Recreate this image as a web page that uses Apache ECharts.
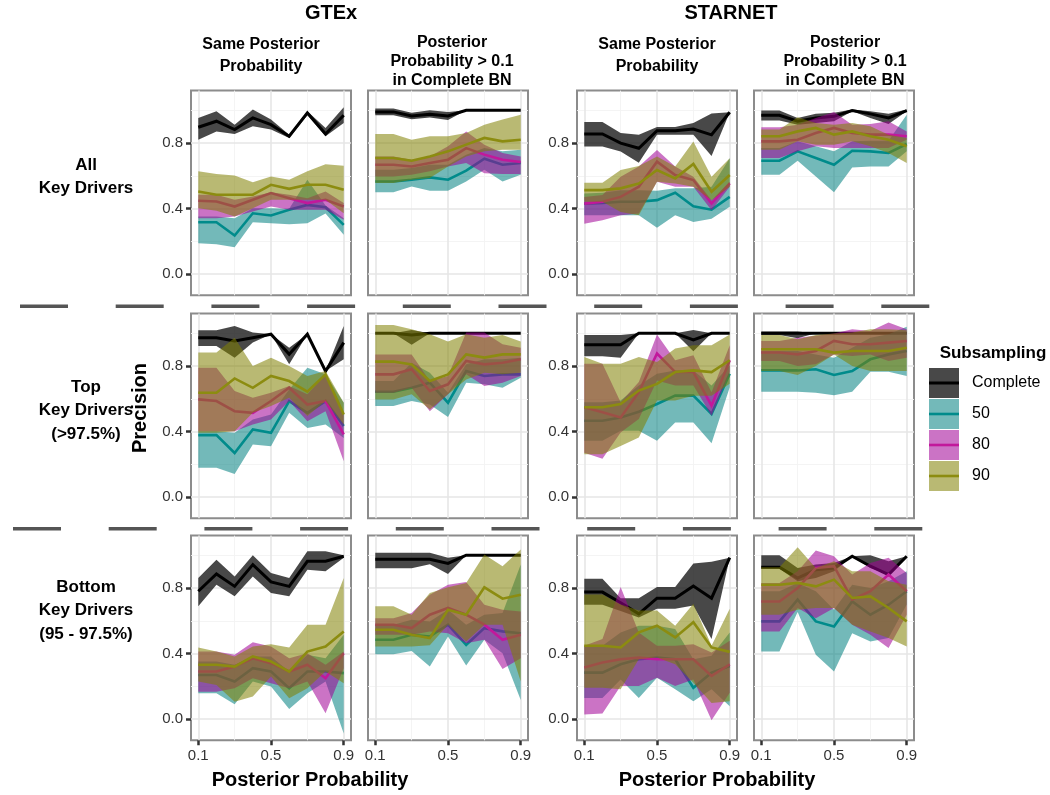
<!DOCTYPE html>
<html><head><meta charset="utf-8">
<script src="https://cdn.jsdelivr.net/npm/echarts@6/dist/echarts.min.js"></script>
<style>html,body{margin:0;padding:0;background:#fff;}#c{width:1050px;height:795px;}</style>
</head><body><div id="c"></div>
<script>
// ---------- shared axes / labels ----------
const xs = [0.1, 0.2, 0.3, 0.4, 0.5, 0.6, 0.7, 0.8, 0.9];
const xTickVals = [0.1, 0.5, 0.9];
const xMinorVals = [0.3, 0.7];
const yTickVals = [0.0, 0.4, 0.8];
const yMinorVals = [0.2, 0.6, 1.0];
const groupNames = ['Complete', '50', '80', '90'];
const datasetTitles = ['GTEx', 'STARNET'];
const colHeaders = [['Same Posterior', 'Probability'], ['Posterior', 'Probability > 0.1', 'in Complete BN'],
                    ['Same Posterior', 'Probability'], ['Posterior', 'Probability > 0.1', 'in Complete BN']];
const rowLabels = [['All', 'Key Drivers'], ['Top', 'Key Drivers', '(>97.5%)'], ['Bottom', 'Key Drivers', '(95 - 97.5%)']];
const xTitle = 'Posterior Probability';
const yTitle = 'Precision';
const legendTitle = 'Subsampling';

// ---------- data: row "All Key Drivers" ----------
// GTEx, same posterior probability
const aGS_C  = {mid:[0.896,0.933,0.882,0.953,0.912,0.841,0.984,0.855,0.969], lo:[0.82,0.871,0.855,0.902,0.882,0.831,0.969,0.841,0.922], hi:[0.953,0.994,0.912,1.004,0.943,0.851,0.994,0.892,1.018]};
const aGS_50 = {mid:[0.316,0.316,0.235,0.371,0.357,0.392,0.422,0.408,0.30], lo:[0.188,0.182,0.163,0.316,0.31,0.304,0.31,0.37,0.239], hi:[0.351,0.351,0.341,0.402,0.402,0.398,0.576,0.418,0.341]};
const aGS_80 = {mid:[0.447,0.443,0.412,0.453,0.494,0.463,0.433,0.453,0.412], lo:[0.341,0.341,0.351,0.382,0.412,0.392,0.392,0.392,0.331], hi:[0.484,0.484,0.453,0.473,0.5,0.484,0.463,0.504,0.433]};
const aGS_90 = {mid:[0.504,0.484,0.484,0.484,0.545,0.52,0.545,0.545,0.514], lo:[0.402,0.386,0.351,0.402,0.453,0.453,0.453,0.453,0.371], hi:[0.627,0.61,0.602,0.561,0.596,0.576,0.627,0.671,0.661]};
// GTEx, posterior probability > 0.1 in complete BN
const aGP_C  = {mid:[0.99,0.99,0.965,0.975,0.965,1,1,1,1], lo:[0.97,0.97,0.945,0.955,0.94,1,1,1,1], hi:[1.01,1.01,0.985,1.0,0.99,1,1,1,1]};
const aGP_50 = {mid:[0.565,0.565,0.576,0.59,0.576,0.631,0.704,0.667,0.678], lo:[0.5,0.5,0.535,0.508,0.508,0.565,0.637,0.565,0.606], hi:[0.637,0.637,0.647,0.667,0.667,0.729,0.769,0.749,0.759]};
const aGP_80 = {mid:[0.667,0.667,0.657,0.678,0.698,0.769,0.729,0.698,0.684], lo:[0.596,0.596,0.606,0.627,0.657,0.678,0.616,0.61,0.61], hi:[0.718,0.718,0.698,0.718,0.78,0.871,0.79,0.739,0.718]};
const aGP_90 = {mid:[0.708,0.708,0.692,0.718,0.749,0.79,0.831,0.81,0.82], lo:[0.555,0.555,0.576,0.586,0.657,0.718,0.749,0.759,0.759], hi:[0.855,0.855,0.82,0.841,0.841,0.861,0.912,0.943,0.973]};
// STARNET, same posterior probability
const aSS_C  = {mid:[0.855,0.855,0.799,0.768,0.875,0.875,0.885,0.85,0.988], lo:[0.779,0.779,0.748,0.68,0.85,0.85,0.85,0.721,0.988], hi:[0.928,0.928,0.861,0.85,0.898,0.898,0.922,0.98,0.988]};
const aSS_50 = {mid:[0.43,0.434,0.441,0.441,0.451,0.496,0.414,0.393,0.471], lo:[0.359,0.359,0.359,0.359,0.283,0.359,0.318,0.338,0.41], hi:[0.492,0.496,0.512,0.512,0.508,0.523,0.523,0.533,0.707]};
const aSS_80 = {mid:[0.43,0.441,0.471,0.533,0.686,0.605,0.574,0.43,0.553], lo:[0.307,0.328,0.359,0.369,0.564,0.533,0.533,0.389,0.533], hi:[0.471,0.482,0.594,0.656,0.758,0.656,0.594,0.451,0.564]};
const aSS_90 = {mid:[0.512,0.512,0.523,0.553,0.635,0.584,0.672,0.502,0.605], lo:[0.441,0.441,0.379,0.359,0.564,0.553,0.533,0.451,0.533], hi:[0.557,0.557,0.635,0.66,0.717,0.656,0.809,0.594,0.707]};
// STARNET, posterior probability > 0.1 in complete BN
const aSP_C  = {mid:[0.969,0.969,0.933,0.953,0.963,0.998,0.978,0.953,0.998], lo:[0.937,0.937,0.912,0.922,0.933,0.994,0.953,0.916,0.994], hi:[0.998,0.998,0.953,0.978,0.984,1.004,0.994,0.978,1.004]};
const aSP_50 = {mid:[0.692,0.692,0.749,0.708,0.667,0.753,0.749,0.739,0.794], lo:[0.606,0.606,0.692,0.596,0.5,0.651,0.657,0.657,0.749], hi:[0.769,0.769,0.81,0.78,0.749,0.81,0.814,0.814,0.973]};
const aSP_80 = {mid:[0.81,0.81,0.82,0.861,0.892,0.861,0.851,0.851,0.841], lo:[0.708,0.708,0.749,0.78,0.769,0.769,0.769,0.769,0.82], hi:[0.896,0.896,0.912,0.953,0.99,0.912,0.916,0.933,0.871]};
const aSP_90 = {mid:[0.841,0.841,0.871,0.892,0.851,0.871,0.841,0.82,0.78], lo:[0.759,0.759,0.81,0.79,0.79,0.81,0.78,0.739,0.678], hi:[0.882,0.882,0.957,0.922,0.912,0.922,0.902,0.851,0.831]};

// ---------- data: row "Top Key Drivers (>97.5%)" ----------
const tGS_C  = {mid:[0.973,0.973,0.953,0.973,0.994,0.871,0.994,0.769,0.943], lo:[0.922,0.922,0.851,0.943,0.994,0.81,0.994,0.769,0.841], hi:[1.018,1.018,1.045,1.004,0.994,0.912,0.994,0.769,1.045]};
const tGS_50 = {mid:[0.378,0.378,0.269,0.412,0.392,0.586,0.514,0.586,0.433], lo:[0.178,0.178,0.141,0.32,0.31,0.514,0.422,0.443,0.361], hi:[0.402,0.402,0.392,0.473,0.504,0.657,0.79,0.749,0.576]};
const tGS_80 = {mid:[0.596,0.586,0.524,0.514,0.586,0.667,0.565,0.586,0.382], lo:[0.402,0.402,0.402,0.443,0.473,0.586,0.463,0.524,0.218], hi:[0.79,0.79,0.647,0.606,0.637,0.678,0.627,0.749,0.504]};
const tGS_90 = {mid:[0.637,0.637,0.724,0.667,0.739,0.708,0.643,0.749,0.504], lo:[0.392,0.392,0.402,0.514,0.555,0.606,0.494,0.586,0.443], hi:[0.882,0.882,0.973,0.8,0.851,0.8,0.739,0.769,0.576]};
const tGP_C  = {mid:[1,1,0.99,1,1,1,1,1,1], lo:[1,1,0.93,1,1,1,1,1,1], hi:[1,1,1.02,1,1,1,1,1,1]};
const tGP_50 = {mid:[0.643,0.643,0.667,0.698,0.576,0.769,0.739,0.749,0.749], lo:[0.555,0.555,0.586,0.565,0.488,0.698,0.688,0.667,0.729], hi:[0.708,0.708,0.82,0.759,0.637,0.81,0.841,0.841,0.851]};
const tGP_80 = {mid:[0.749,0.749,0.78,0.647,0.688,0.831,0.81,0.82,0.841], lo:[0.637,0.637,0.667,0.524,0.627,0.749,0.678,0.698,0.739], hi:[0.871,0.871,0.871,0.708,0.739,1.004,1.004,0.933,0.912]};
const tGP_90 = {mid:[0.827,0.827,0.81,0.708,0.749,0.871,0.851,0.871,0.871], lo:[0.596,0.596,0.627,0.535,0.627,0.718,0.759,0.749,0.759], hi:[1.051,1.051,1.024,0.994,0.949,0.994,0.973,0.99,0.949]};
const tSS_C  = {mid:[0.93,0.93,0.93,1,1,1,0.96,1,1], lo:[0.86,0.86,0.85,1,1,1,0.89,1,1], hi:[0.99,0.99,0.99,1,1,1,1.02,1,1]};
const tSS_50 = {mid:[0.466,0.466,0.486,0.521,0.568,0.619,0.619,0.507,0.753], lo:[0.343,0.343,0.404,0.404,0.343,0.455,0.455,0.328,0.671], hi:[0.578,0.578,0.589,0.681,0.753,0.773,0.773,0.681,0.804]};
const tSS_80 = {mid:[0.548,0.517,0.486,0.64,0.876,0.763,0.763,0.558,0.835], lo:[0.271,0.234,0.394,0.476,0.712,0.681,0.681,0.496,0.763], hi:[0.814,0.814,0.578,0.702,0.993,0.835,0.866,0.64,0.927]};
const tSS_90 = {mid:[0.548,0.548,0.568,0.65,0.691,0.763,0.773,0.763,0.835], lo:[0.261,0.261,0.312,0.363,0.589,0.589,0.619,0.619,0.691], hi:[0.855,0.814,0.814,0.855,0.825,0.907,0.927,0.927,0.993]};
const tSP_C  = {mid:[1,1,1,1,1,1,1,1,1], lo:[0.99,0.99,0.97,1,1,1,1,1,1], hi:[1.01,1.01,1.01,1,1,1,1,1,1]};
const tSP_50 = {mid:[0.773,0.773,0.773,0.78,0.745,0.769,0.841,0.871,0.892], lo:[0.643,0.643,0.643,0.637,0.622,0.643,0.765,0.765,0.739], hi:[0.892,0.892,0.892,0.871,0.851,0.912,0.973,0.994,1.039]};
const tSP_80 = {mid:[0.882,0.882,0.871,0.892,0.953,0.933,0.933,0.943,0.953], lo:[0.831,0.831,0.8,0.81,0.871,0.861,0.871,0.831,0.851], hi:[0.953,0.953,0.973,0.984,0.998,1.024,1.014,1.065,1.024]};
const tSP_90 = {mid:[0.902,0.902,0.902,0.902,0.882,0.892,0.892,0.892,0.912], lo:[0.769,0.769,0.745,0.8,0.871,0.8,0.769,0.769,0.769], hi:[0.99,0.99,0.963,0.99,0.998,1.004,1.024,1.024,1.018]};

// ---------- data: row "Bottom Key Drivers (95 - 97.5%)" ----------
const bGS_C  = {mid:[0.78,0.886,0.81,0.943,0.837,0.81,0.963,0.963,0.994], lo:[0.688,0.82,0.749,0.871,0.769,0.749,0.912,0.902,0.984], hi:[0.861,0.973,0.871,1.0,0.892,0.861,1.024,1.024,1.0]};
const bGS_50 = {mid:[0.269,0.269,0.229,0.31,0.29,0.188,0.29,0.29,0.28], lo:[0.157,0.157,0.09,0.229,0.198,0.061,0.157,0.229,-0.088], hi:[0.351,0.351,0.331,0.382,0.382,0.29,0.392,0.371,0.514]};
const bGS_80 = {mid:[0.29,0.29,0.32,0.371,0.341,0.29,0.331,0.249,0.402], lo:[0.167,0.167,0.188,0.249,0.218,0.188,0.229,0.035,0.31], hi:[0.412,0.412,0.392,0.469,0.443,0.371,0.402,0.331,0.412]};
const bGS_90 = {mid:[0.331,0.331,0.32,0.382,0.351,0.29,0.412,0.443,0.535], lo:[0.229,0.208,0.106,0.137,0.259,0.127,0.188,0.29,0.218], hi:[0.437,0.412,0.382,0.443,0.457,0.437,0.576,0.576,0.861]};
const bGP_C  = {mid:[0.975,0.975,0.975,0.975,0.95,1,1,1,1], lo:[0.92,0.92,0.92,0.945,0.885,1,1,1,1], hi:[1.015,1.015,1.015,1.015,0.985,1,1,1,1]};
const bGP_50 = {mid:[0.484,0.484,0.514,0.504,0.576,0.453,0.555,0.535,0.524], lo:[0.396,0.396,0.416,0.32,0.504,0.327,0.484,0.402,0.116], hi:[0.576,0.576,0.606,0.596,0.667,0.576,0.637,0.647,0.943]};
const bGP_80 = {mid:[0.576,0.576,0.555,0.637,0.678,0.637,0.576,0.484,0.514], lo:[0.514,0.514,0.514,0.535,0.524,0.463,0.484,0.306,0.371], hi:[0.616,0.616,0.647,0.759,0.82,0.837,0.698,0.667,0.657]};
const bGP_90 = {mid:[0.545,0.545,0.514,0.494,0.667,0.637,0.804,0.735,0.759], lo:[0.443,0.443,0.443,0.45,0.576,0.473,0.576,0.576,0.229], hi:[0.688,0.688,0.637,0.769,0.804,0.831,1.004,0.933,1.035]};
const bSS_C  = {mid:[0.775,0.775,0.71,0.642,0.738,0.738,0.812,0.738,0.985], lo:[0.697,0.697,0.66,0.62,0.673,0.673,0.693,0.488,0.985], hi:[0.857,0.857,0.738,0.738,0.806,0.806,0.95,0.96,0.985]};
const bSS_50 = {mid:[0.283,0.283,0.334,0.365,0.375,0.365,0.191,0.283,0.324], lo:[0.129,0.129,0.242,0.129,0.252,0.181,0.109,0.181,0.078], hi:[0.447,0.447,0.529,0.57,0.57,0.55,0.365,0.386,0.529]};
const bSS_80 = {mid:[0.314,0.345,0.365,0.375,0.365,0.365,0.365,0.263,0.334], lo:[0.027,0.033,0.201,0.201,0.252,0.201,0.242,-0.008,0.16], hi:[0.447,0.488,0.806,0.529,0.447,0.447,0.457,0.406,0.478]};
const bSS_90 = {mid:[0.447,0.447,0.437,0.529,0.57,0.498,0.591,0.437,0.41], lo:[0.191,0.191,0.181,0.365,0.375,0.334,0.222,0.098,0.109], hi:[0.76,0.76,0.70,0.663,0.663,0.57,0.704,0.447,0.673]};
const bSP_C  = {mid:[0.927,0.927,0.861,0.912,0.922,0.994,0.933,0.882,0.994], lo:[0.918,0.918,0.841,0.861,0.902,0.994,0.922,0.882,0.994], hi:[1.0,1.0,0.922,0.943,0.953,0.994,1.0,0.963,0.994]};
const bSP_50 = {mid:[0.596,0.596,0.729,0.596,0.565,0.718,0.637,0.698,0.78], lo:[0.412,0.412,0.653,0.392,0.29,0.524,0.473,0.494,0.70], hi:[0.78,0.78,0.831,0.78,0.667,0.82,0.8,0.841,0.902]};
const bSP_80 = {mid:[0.718,0.718,0.8,0.922,0.933,0.729,0.78,0.882,0.78], lo:[0.535,0.535,0.678,0.616,0.678,0.576,0.514,0.433,0.637], hi:[0.831,0.831,0.902,1.029,0.994,0.882,0.953,0.984,0.892]};
const bSP_90 = {mid:[0.82,0.82,0.831,0.81,0.851,0.739,0.749,0.678,0.596], lo:[0.637,0.637,0.667,0.678,0.678,0.576,0.535,0.494,0.443], hi:[0.927,0.927,1.049,0.922,0.963,0.902,0.902,0.841,0.82]};

const panels = [
  [aGS_C, aGS_50, aGS_80, aGS_90], [aGP_C, aGP_50, aGP_80, aGP_90], [aSS_C, aSS_50, aSS_80, aSS_90], [aSP_C, aSP_50, aSP_80, aSP_90],
  [tGS_C, tGS_50, tGS_80, tGS_90], [tGP_C, tGP_50, tGP_80, tGP_90], [tSS_C, tSS_50, tSS_80, tSS_90], [tSP_C, tSP_50, tSP_80, tSP_90],
  [bGS_C, bGS_50, bGS_80, bGS_90], [bGP_C, bGP_50, bGP_80, bGP_90], [bSS_C, bSS_50, bSS_80, bSS_90], [bSP_C, bSP_50, bSP_80, bSP_90]
];

// ---------- styling / layout ----------
const FONT = "'Liberation Sans', Arial, Helvetica, sans-serif";
const lineColors = ['#000000', '#008B8B', '#C2189B', '#8C8C10'];
const bandColors = ['rgba(26,26,26,0.8)', 'rgba(0,128,128,0.55)', 'rgba(160,0,150,0.55)', 'rgba(128,128,0,0.55)'];
const lineWidths = [3, 2.6, 2.6, 2.6];
const colLeft = [191, 368, 577, 754];
const panelW = 160;
const rowTop = [90.6, 313.6, 535.6];
const panelH = 204.7;
const Y_MIN = -0.13, Y_MAX = 1.12, X_MIN = 0.06, X_MAX = 0.94;

const grids = [], xAxes = [], yAxes = [], series = [];
const fmt = v => v.toFixed(1);
const majorStyle = {color: '#E6E6E6', width: 1.6, type: 'solid'};
const minorStyle = {color: '#F3F3F3', width: 0.9, type: 'solid'};

// ribbon between lo and hi, drawn as one polygon through the axis scales
function ribbonRenderer(fill) {
  return function (params, api) {
    if (params.dataIndexInside !== 0) return null;
    const n = params.dataInsideLength;
    const top = [], bot = [];
    for (let j = 0; j < n; j++) {
      const x = api.value(0, j);
      top.push(api.coord([x, api.value(2, j)]));
      bot.push(api.coord([x, api.value(1, j)]));
    }
    return {type: 'polygon', shape: {points: top.concat(bot.reverse())}, style: {fill: fill, stroke: null}, silent: true};
  };
}

panels.forEach((groups, i) => {
  const r = Math.floor(i / 4), c = i % 4;
  grids.push({left: colLeft[c], top: rowTop[r], width: panelW, height: panelH,
              show: true, borderColor: '#8C8C8C', borderWidth: 2, backgroundColor: '#fff', containLabel: false});
  const showX = r === 2, showY = (c === 0 || c === 2);
  xAxes.push({type: 'value', gridIndex: i, min: X_MIN, max: X_MAX, position: 'bottom',
    axisLine: {show: false, onZero: false}, splitLine: {show: false},
    axisTick: {show: showX, customValues: xTickVals, length: 5, lineStyle: {color: '#333', width: 2.5}},
    axisLabel: {show: showX, customValues: xTickVals, formatter: fmt, fontSize: 15, color: '#333', fontFamily: FONT, margin: 8}});
  yAxes.push({type: 'value', gridIndex: i, min: Y_MIN, max: Y_MAX, position: 'left',
    axisLine: {show: false, onZero: false}, splitLine: {show: false},
    axisTick: {show: showY, customValues: yTickVals, length: 5, lineStyle: {color: '#333', width: 2.5}},
    axisLabel: {show: showY, customValues: yTickVals, formatter: fmt, fontSize: 15, color: '#333', fontFamily: FONT, margin: 8}});
  // panel grid lines (through the axis scale)
  const ml = [];
  xMinorVals.forEach(v => ml.push({xAxis: v, lineStyle: minorStyle}));
  yMinorVals.forEach(v => ml.push({yAxis: v, lineStyle: minorStyle}));
  xTickVals.forEach(v => ml.push({xAxis: v, lineStyle: majorStyle}));
  yTickVals.forEach(v => ml.push({yAxis: v, lineStyle: majorStyle}));
  series.push({type: 'line', xAxisIndex: i, yAxisIndex: i, data: [[0.5, null]], symbol: 'none', silent: true, z: 1,
    markLine: {silent: true, z: 1, symbol: ['none', 'none'], label: {show: false}, animation: false, data: ml}});
  groups.forEach((g, k) => {
    series.push({type: 'custom', xAxisIndex: i, yAxisIndex: i, silent: true, z: 2 + 2 * k, clip: true,
      data: xs.map((x, j) => [x, g.lo[j], g.hi[j]]), encode: {x: 0, y: [1, 2]},
      renderItem: ribbonRenderer(bandColors[k])});
    series.push({type: 'line', name: groupNames[k], xAxisIndex: i, yAxisIndex: i, symbol: 'none', silent: true, z: 3 + 2 * k,
      data: xs.map((x, j) => [x, g.mid[j]]), lineStyle: {color: lineColors[k], width: lineWidths[k], join: 'miter'}});
  });
});

// ---------- text & decorations ----------
const gfx = [];
function txt(s, x, y, size, bold, opts) {
  gfx.push(Object.assign({type: 'text', x: x, y: y, silent: true,
    style: {text: s, fill: '#000', font: (bold ? 'bold ' : '') + size + 'px ' + FONT, textAlign: 'center', textVerticalAlign: 'middle'}}, opts || {}));
}
txt(datasetTitles[0], 331, 13, 20, true);
txt(datasetTitles[1], 731, 13, 20, true);
const headerX = [261, 452, 657, 845];
colHeaders.forEach((lines, c) => {
  const ys = lines.length === 2 ? [45, 67] : [43, 62, 81];
  lines.forEach((s, j) => txt(s, headerX[c], ys[j], 16, true));
});
const rowLabelY = [[165, 188], [387, 410, 434], [587, 610, 634]];
rowLabels.forEach((lines, r) => lines.forEach((s, j) => txt(s, 86, rowLabelY[r][j], 17, true)));
txt(xTitle, 310, 780, 20, true);
txt(xTitle, 717, 780, 20, true);
gfx.push({type: 'text', x: 140, y: 408, rotation: Math.PI / 2, silent: true,
  style: {text: yTitle, fill: '#000', font: 'bold 20px ' + FONT, textAlign: 'center', textVerticalAlign: 'middle'}});
// separator dashes between facet rows
for (let k = 0; k < 10; k++) {
  gfx.push({type: 'rect', silent: true, shape: {x: 20 + k * 95.7, y: 304.5, width: 48, height: 3.5}, style: {fill: '#555'}});
  gfx.push({type: 'rect', silent: true, shape: {x: 13 + k * 95.7, y: 527, width: 48, height: 3.5}, style: {fill: '#555'}});
}
// legend
txt(legendTitle, 993, 353, 17, true);
groupNames.forEach((n, k) => {
  const y0 = 368 + k * 31;
  gfx.push({type: 'rect', silent: true, shape: {x: 929, y: y0, width: 30, height: 30}, style: {fill: '#fff'}});
  gfx.push({type: 'rect', silent: true, shape: {x: 929, y: y0, width: 30, height: 30}, style: {fill: bandColors[k]}});
  gfx.push({type: 'line', silent: true, shape: {x1: 929, y1: y0 + 15, x2: 959, y2: y0 + 15}, style: {stroke: lineColors[k], lineWidth: lineWidths[k]}});
  gfx.push({type: 'text', x: 972, y: y0 + 15, silent: true,
    style: {text: n, fill: '#000', font: '16px ' + FONT, textAlign: 'left', textVerticalAlign: 'middle'}});
});

const chart = echarts.init(document.getElementById('c'), null, {renderer: 'canvas'});
chart.setOption({
  animation: false,
  backgroundColor: '#fff',
  grid: grids, xAxis: xAxes, yAxis: yAxes, series: series,
  graphic: gfx
});
</script></body></html>
